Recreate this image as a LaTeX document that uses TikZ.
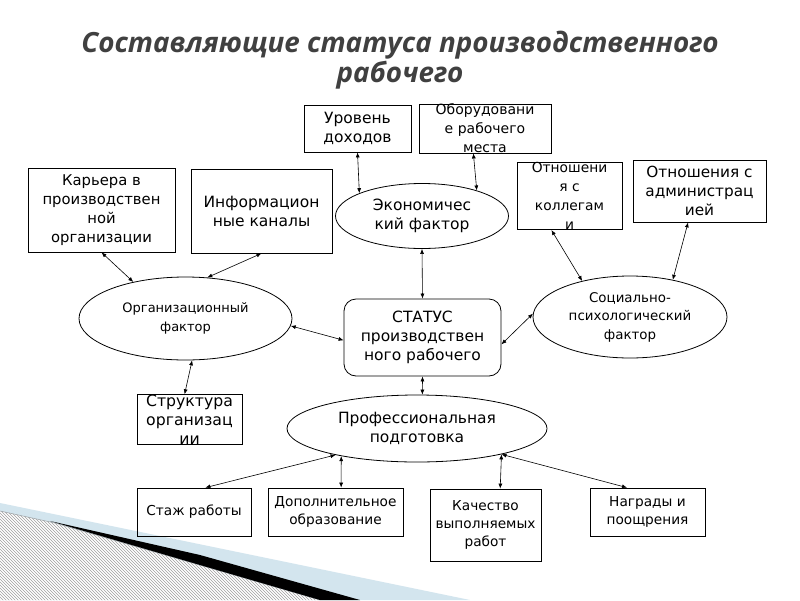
\documentclass[tikz,border=0pt]{standalone}
\usepackage{fontspec}
\setmainfont{DejaVu Sans}
\newfontfamily\titlefont{Open Sans}
\usetikzlibrary{shapes.geometric,patterns,arrows.meta}
\definecolor{titlegray}{HTML}{404040}
\definecolor{decoblue}{HTML}{D3E5EE}
\newcommand{\fs}[1]{\fontsize{#1}{19}\selectfont}
\begin{document}
\begin{tikzpicture}[x=1pt,y=-1pt,
  box/.style={draw, line width=0.8pt, rectangle, inner sep=0pt, align=center},
  ell/.style={draw, line width=0.8pt, ellipse, inner sep=0pt, align=center},
  arr/.style={{Latex[length=5pt,width=4pt]}-{Latex[length=5pt,width=4pt]}, line width=0.6pt},
  ttl/.style={font=\titlefont\bfseries\itshape\fontsize{27.8}{32}\selectfont, text=titlegray, inner sep=0pt}
]
\useasboundingbox (0,0) rectangle (800,600);
\fill[white] (0,0) rectangle (800,600);
% decoration
\fill[decoblue] (0,503) -- (470,600) -- (0,600) -- cycle;
\fill[white] (0,511) -- (55,523) -- (320,600) -- (0,600) -- cycle;
\fill[pattern=north west lines, pattern color=gray!75] (0,511) -- (55,523) -- (320,600) -- (0,600) -- cycle;
\draw[gray!60!decoblue, line width=0.6pt] (0,511) -- (55,523) -- (320,600);
\fill[black] (50,521) -- (200,555) -- (360,600) -- (320,600) -- (200,565) -- cycle;
% title
\node[ttl] (t1) at (400,45) {Составляющие статуса производственного};
\node[ttl] (t2) at (400,75) {рабочего};
% boxes
\node[box, font=\fs{15.5}, minimum width=107, minimum height=47] (dox) at (357.5,128.5) {Уровень\\доходов};
\node[box, font=\fs{14}, minimum width=132, minimum height=47] (obo) at (485,128.5) {Оборудовани\\е рабочего\\места};
\node[box, font=\fs{14.8}, minimum width=147, minimum height=84] (kar) at (101.5,210) {Карьера в\\производствен\\ной\\организации};
\node[box, font=\fs{15.5}, minimum width=141, minimum height=84] (inf) at (261.5,211) {Информацион\\ные каналы};
\node[ell, font=\fs{15.5}, minimum width=173, minimum height=65] (eco) at (422,216) {Экономичес\\кий фактор};
\node[box, font=\fs{13.8}, minimum width=105, minimum height=54] (col) at (569.5,196) {Отношени\\я с\\коллегам\\и};
\node[box, font=\fs{15.3}, minimum width=133, minimum height=62] (adm) at (699.5,191) {Отношения с\\администрац\\ией};
\node[ell, font=\fs{13}, minimum width=213, minimum height=83] (org) at (185.5,318.5) {Организационный\\фактор};
\node[box, font=\fs{15.5}, rounded corners=12pt, minimum width=157, minimum height=77] (st) at (422.5,337.5) {СТАТУС\\производствен\\ного рабочего};
\node[ell, font=\fontsize{13.4}{18.5}\selectfont, minimum width=194, minimum height=82] (soc) at (630,317) {Социально-\\психологический\\фактор};
\node[box, font=\fs{15.7}, minimum width=105, minimum height=47] (str) at (189.5,419.5) {Структура\\организац\\ии};
\node[ell, font=\fs{15.5}, minimum width=260, minimum height=67] (pro) at (417,428.5) {Профессиональная\\подготовка};
\node[box, font=\fontsize{13.7}{18}\selectfont, minimum width=114, minimum height=48] (sta) at (194,512) {Стаж работы};
\node[box, font=\fontsize{13.7}{18}\selectfont, minimum width=135, minimum height=48] (dop) at (335.5,512) {Дополнительное\\образование};
\node[box, font=\fontsize{13.7}{18}\selectfont, minimum width=111, minimum height=72] (kac) at (485.5,525) {Качество\\выполняемых\\работ};
\node[box, font=\fontsize{13.7}{18}\selectfont, minimum width=115, minimum height=48] (nag) at (647.5,512) {Награды и\\поощрения};
% connectors
\draw[arr] (dox.south) -- (eco.160);
\draw[arr] (obo.-115) -- (eco.25);
\draw[arr] (eco.south) -- (st.north);
\draw[arr] (kar.south) -- (org.145);
\draw[arr] (inf.south) -- (org.62);
\draw[arr] (col.-118) -- (soc.143);
\draw[arr] (adm.-110) -- (soc.41);
\draw[arr] (org.-4) -- (st.182);
\draw[arr] (st.-5) -- (soc.178);
\draw[arr] (st.south) -- (pro.81);
\draw[arr] (org.-81) -- (str.101);
\draw[arr] (pro.198) -- (sta.65);
\draw[arr] (pro.200) -- (dop.77);
\draw[arr] (pro.-17) -- (kac.68);
\draw[arr] (pro.-17) -- (nag.130);
\end{tikzpicture}
\end{document}
